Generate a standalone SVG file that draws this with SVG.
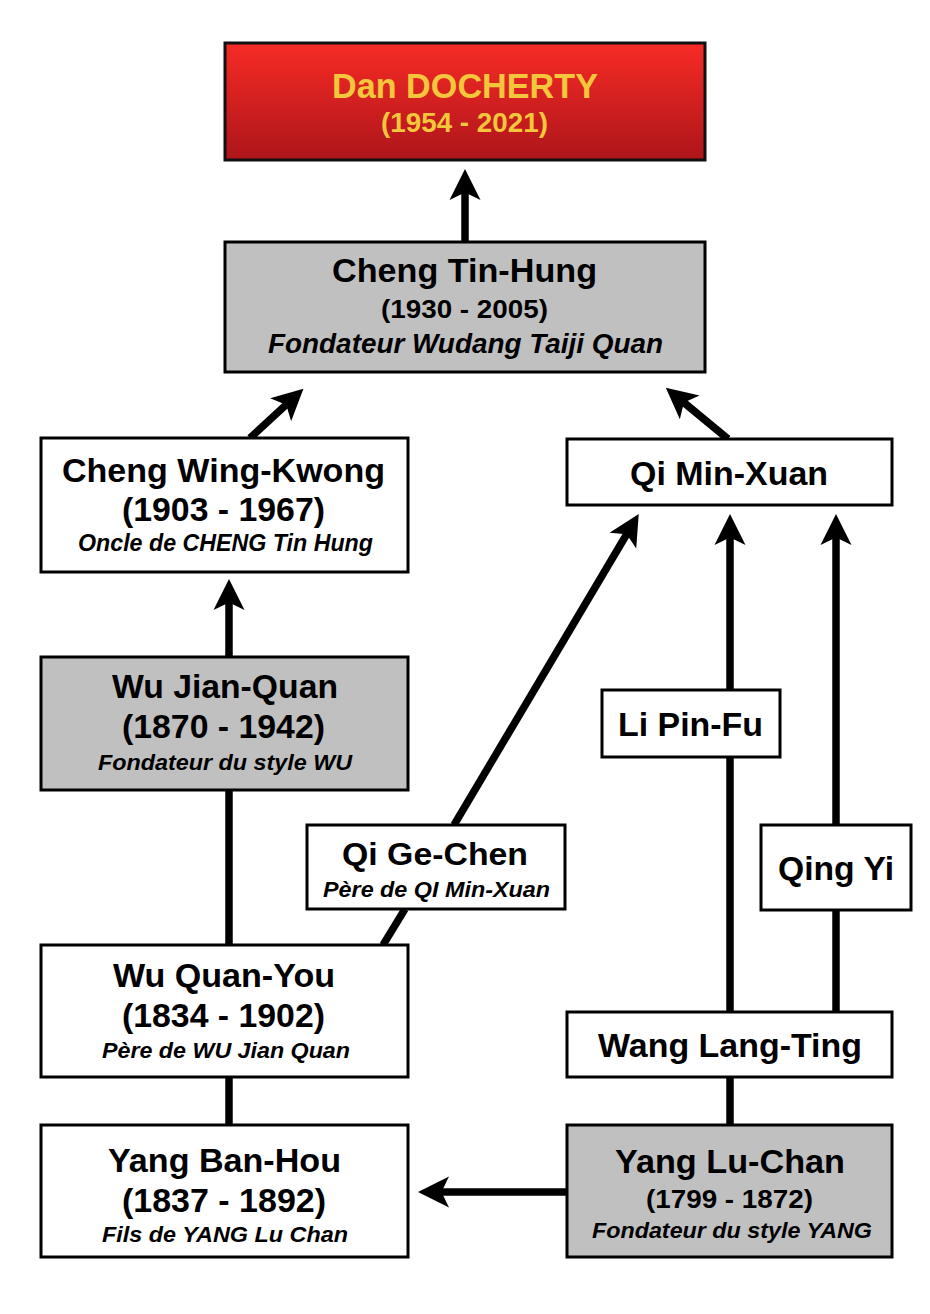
<svg xmlns="http://www.w3.org/2000/svg" width="930" height="1314" viewBox="0 0 930 1314">
<defs>
<linearGradient id="red" x1="0" y1="0" x2="0" y2="1">
<stop offset="0" stop-color="#f72b25"/>
<stop offset="1" stop-color="#ad151a"/>
</linearGradient>
<marker id="ah" markerUnits="userSpaceOnUse" viewBox="0 0 32 32" markerWidth="32" markerHeight="32" refX="10" refY="16" orient="auto">
<path d="M31,16 L0,0.5 L7.5,16 L0,31.5 Z" fill="#000"/>
</marker>
<style>
.box{fill:#fff;stroke:#000;stroke-width:3}
.gray{fill:#c0c0c0}
.top{fill:url(#red);stroke:#111}
text{font-family:"Liberation Sans",Arial,Helvetica,sans-serif;font-weight:bold;text-anchor:middle;fill:#000}
.it{font-style:italic}
.yel{fill:#f4c63c}
.c{fill:none;stroke:#000;stroke-width:7.5}
.a{marker-end:url(#ah)}
</style>
</defs>
<rect width="930" height="1314" fill="#fff"/>
<g id="connectors">
<path class="c a" d="M465,242 V190"/>
<path class="c a" d="M250,438 L288,403"/>
<path class="c a" d="M728,439 L682,401"/>
<path class="c a" d="M229,657 V600"/>
<path class="c" d="M229,945 V790"/>
<path class="c" d="M229,1125 V1077"/>
<path class="c" d="M383,945 L405,909"/>
<path class="c a" d="M454,825 L628,532"/>
<path class="c a" d="M567,1192 H439"/>
<path class="c" d="M730,1125 V1077"/>
<path class="c" d="M730,1012 V757"/>
<path class="c a" d="M730,690 V535"/>
<path class="c" d="M836,1012 V910"/>
<path class="c a" d="M836,825 V535"/>
</g>
<g id="dan-docherty">
<rect class="box top" x="225" y="43" width="480" height="117"/>
<text class="yel" x="465" y="98" font-size="35" textLength="266" lengthAdjust="spacingAndGlyphs">Dan DOCHERTY</text>
<text class="yel" x="464.5" y="132" font-size="27" textLength="167" lengthAdjust="spacingAndGlyphs">(1954 - 2021)</text>
</g>
<g id="cheng-tin-hung">
<rect class="box gray" x="225" y="242" width="480" height="130"/>
<text x="464.5" y="282" font-size="33" textLength="265" lengthAdjust="spacingAndGlyphs">Cheng Tin-Hung</text>
<text x="464.5" y="318" font-size="26" textLength="167" lengthAdjust="spacingAndGlyphs">(1930 - 2005)</text>
<text class="it" x="465.5" y="353" font-size="27.5" textLength="395" lengthAdjust="spacingAndGlyphs">Fondateur Wudang Taiji Quan</text>
</g>
<g id="cheng-wing-kwong">
<rect class="box" x="41" y="438" width="367" height="134"/>
<text x="223.5" y="482" font-size="34" textLength="323" lengthAdjust="spacingAndGlyphs">Cheng Wing-Kwong</text>
<text x="223.5" y="521" font-size="33" textLength="203" lengthAdjust="spacingAndGlyphs">(1903 - 1967)</text>
<text class="it" x="225.5" y="551" font-size="23" textLength="295" lengthAdjust="spacingAndGlyphs">Oncle de CHENG Tin Hung</text>
</g>
<g id="qi-min-xuan">
<rect class="box" x="567" y="439" width="325" height="66"/>
<text x="729" y="485" font-size="33" textLength="198" lengthAdjust="spacingAndGlyphs">Qi Min-Xuan</text>
</g>
<g id="wu-jian-quan">
<rect class="box gray" x="41" y="657" width="367" height="133"/>
<text x="225" y="698" font-size="33" textLength="226" lengthAdjust="spacingAndGlyphs">Wu Jian-Quan</text>
<text x="223.5" y="738" font-size="33" textLength="203" lengthAdjust="spacingAndGlyphs">(1870 - 1942)</text>
<text class="it" x="225" y="770" font-size="22" textLength="254" lengthAdjust="spacingAndGlyphs">Fondateur du style WU</text>
</g>
<g id="li-pin-fu">
<rect class="box" x="602" y="690" width="178" height="67"/>
<text x="690.5" y="736" font-size="33" textLength="145" lengthAdjust="spacingAndGlyphs">Li Pin-Fu</text>
</g>
<g id="qi-ge-chen">
<rect class="box" x="307" y="825" width="258" height="84"/>
<text x="435" y="865" font-size="32" textLength="186" lengthAdjust="spacingAndGlyphs">Qi Ge-Chen</text>
<text class="it" x="436.5" y="897" font-size="22" textLength="227" lengthAdjust="spacingAndGlyphs">Père de QI Min-Xuan</text>
</g>
<g id="qing-yi">
<rect class="box" x="761" y="825" width="150" height="85"/>
<text x="836" y="880" font-size="33" textLength="116" lengthAdjust="spacingAndGlyphs">Qing Yi</text>
</g>
<g id="wu-quan-you">
<rect class="box" x="41" y="945" width="367" height="132"/>
<text x="224" y="987" font-size="33" textLength="222" lengthAdjust="spacingAndGlyphs">Wu Quan-You</text>
<text x="223.5" y="1027" font-size="33" textLength="203" lengthAdjust="spacingAndGlyphs">(1834 - 1902)</text>
<text class="it" x="226" y="1058" font-size="22" textLength="248" lengthAdjust="spacingAndGlyphs">Père de WU Jian Quan</text>
</g>
<g id="wang-lang-ting">
<rect class="box" x="567" y="1012" width="325" height="65"/>
<text x="730" y="1057" font-size="33" textLength="264" lengthAdjust="spacingAndGlyphs">Wang Lang-Ting</text>
</g>
<g id="yang-ban-hou">
<rect class="box" x="41" y="1125" width="367" height="132"/>
<text x="224.5" y="1172" font-size="33" textLength="233" lengthAdjust="spacingAndGlyphs">Yang Ban-Hou</text>
<text x="224" y="1212" font-size="33" textLength="204" lengthAdjust="spacingAndGlyphs">(1837 - 1892)</text>
<text class="it" x="225" y="1242" font-size="22" textLength="246" lengthAdjust="spacingAndGlyphs">Fils de YANG Lu Chan</text>
</g>
<g id="yang-lu-chan">
<rect class="box gray" x="567" y="1125" width="325" height="132"/>
<text x="730" y="1173" font-size="33" textLength="230" lengthAdjust="spacingAndGlyphs">Yang Lu-Chan</text>
<text x="729.5" y="1208" font-size="26" textLength="167" lengthAdjust="spacingAndGlyphs">(1799 - 1872)</text>
<text class="it" x="732" y="1238" font-size="22" textLength="280" lengthAdjust="spacingAndGlyphs">Fondateur du style YANG</text>
</g>
</svg>
